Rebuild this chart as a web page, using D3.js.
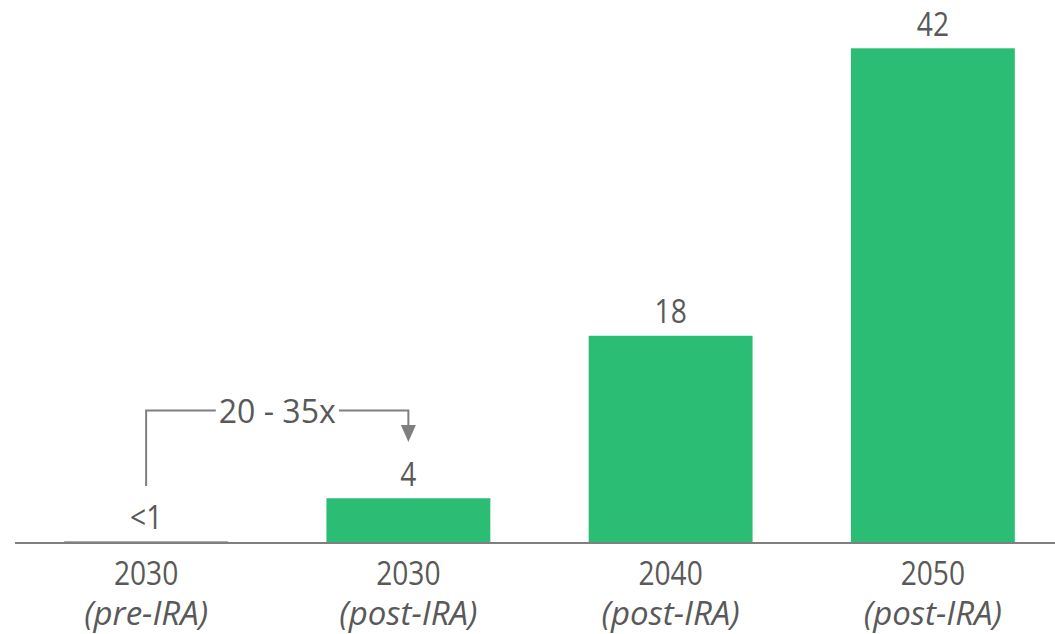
<!DOCTYPE html>
<html>
<head>
<meta charset="utf-8">
<script src="https://cdn.jsdelivr.net/npm/d3@7"></script>
<style>
  body { margin: 0; background: #fff; }
  svg { display: block; }
  text { font-family: "Open Sans", "Noto Sans", sans-serif; fill: #595959; }
</style>
</head>
<body>
<svg id="chart" width="1055" height="634"></svg>
<script>
// chart data
var years = ['2030', '2030', '2040', '2050'];
var scenarios = ['(pre-IRA)', '(post-IRA)', '(post-IRA)', '(post-IRA)'];
var values = [0.12, 3.76, 17.57, 42];
var valueLabels = ['<1', '4', '18', '42'];
var multiplier = '20 - 35x';

var svg = d3.select('#chart');
var width = 1055;

var green = '#2bbd74';
var grey = '#7f7f7f';
var narrow = 0.88; // the original digits are narrower than Open Sans

var idx = d3.range(values.length);

var x = d3.scaleBand()
    .domain(idx)
    .range([15, 1064])
    .paddingInner(0.375)
    .paddingOuter(0.1875);

var y = d3.scaleLinear()
    .domain([0, 42])
    .range([542.5, 48.3]);

// bars
svg.selectAll('rect.bar')
    .data(idx)
    .enter().append('rect')
    .attr('class', 'bar')
    .attr('x', i => x(i))
    .attr('width', x.bandwidth())
    .attr('y', i => y(values[i]))
    .attr('height', i => y(0) - y(values[i]))
    .attr('fill', i => i === 0 ? '#a5a5a5' : green);

// baseline
svg.append('line')
    .attr('x1', 15).attr('x2', width)
    .attr('y1', y(0) + 0.5).attr('y2', y(0) + 0.5)
    .attr('stroke', grey)
    .attr('stroke-width', 2);

// value labels
svg.selectAll('text.val')
    .data(idx)
    .enter().append('text')
    .attr('class', 'val')
    .attr('transform', i => 'translate(' + (x(i) + x.bandwidth() / 2) + ',' + (y(values[i]) - 12.5) + ') scale(' + narrow + ',1)')
    .attr('text-anchor', 'middle')
    .style('font-size', '32px')
    .text(i => valueLabels[i]);

// category labels
var cat = svg.selectAll('g.cat')
    .data(idx)
    .enter().append('g')
    .attr('class', 'cat')
    .attr('transform', i => 'translate(' + (x(i) + x.bandwidth() / 2) + ',0)');
cat.append('text')
    .attr('transform', 'translate(0,585) scale(' + narrow + ',1)')
    .attr('text-anchor', 'middle')
    .style('font-size', '32px')
    .text(i => years[i]);
cat.append('text')
    .attr('y', 625)
    .attr('text-anchor', 'middle')
    .style('font-size', '33px')
    .style('font-style', 'italic')
    .text(i => scenarios[i]);

// growth annotation from bar 0 to bar 1
var x0 = x(0) + x.bandwidth() / 2;
var x1 = x(1) + x.bandwidth() / 2;
var yTop = 410.5;
var label = svg.append('text')
    .attr('x', (x0 + x1) / 2)
    .attr('y', yTop + 12)
    .attr('text-anchor', 'middle')
    .style('font-size', '32px')
    .text(multiplier);
var bb = label.node().getBBox();

svg.append('path')
    .attr('d', 'M' + x0 + ',' + 486 + 'V' + yTop + 'H' + (bb.x - 3))
    .attr('fill', 'none')
    .attr('stroke', grey)
    .attr('stroke-width', 2);
svg.append('path')
    .attr('d', 'M' + (bb.x + bb.width + 3) + ',' + yTop + 'H' + x1 + 'V' + 426)
    .attr('fill', 'none')
    .attr('stroke', grey)
    .attr('stroke-width', 2);
svg.append('path')
    .attr('d', 'M' + (x1 - 7.5) + ',425L' + (x1 + 7.5) + ',425L' + x1 + ',442Z')
    .attr('fill', grey);
</script>
</body>
</html>
